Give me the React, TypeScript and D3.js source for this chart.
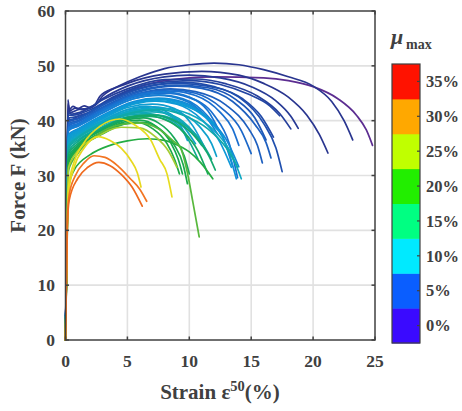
import React from "react";
import * as d3 from "d3";

// ---------- data ----------
const xTicks = [0, 5, 10, 15, 20, 25];
const yTicks = [0, 10, 20, 30, 40, 50, 60];
const cbarLabels = ["0%", "5%", "10%", "15%", "20%", "25%", "30%", "35%"];
const cbarColors = ["#3a0aff", "#0a5eff", "#00eaff", "#00ff82", "#22ee00", "#c0ff00", "#ffa800", "#ff1200"];

// μmax (%) of every specimen curve, in drawing order
const curveMu = [
  0, 1.5, 1.5, 2, 2.5, 3, 3.5,
  4, 4.5, 5, 5, 5.5, 6, 6, 6.5, 7, 7,
  8, 8.5, 9, 9, 9.5, 10, 10, 10.5, 11, 11.5,
  12, 12.5, 13, 13.5, 14, 15,
  16.5, 17, 17.5, 18, 18.5, 19, 20,
  22, 24, 27, 28, 32, 33,
];

// strain (%), force (kN) key points of every curve
const curvePoints: [number, number][][] = [
  // navy / purple
  [[0,0],[0.1,20],[0.2,40.5],[0.4,40],[1,40.8],[2,41.5],[3,43],[5,45.3],[8,47.3],[12,48],[16,47.8],[18,47.3],[20,46.2],[22,44],[23.5,41],[24.3,38.3],[24.8,35.5]],
  [[0,0],[0.1,22],[0.2,43.8],[0.3,42],[0.6,42.6],[1,42.2],[1.5,42.7],[2,42.4],[2.4,43],[2.8,44.5],[4,46],[6,48],[8,49.5],[10,50.2],[12,50.5],[14,50.2],[16,49.3],[18,48],[20,46.3],[21.5,43.5],[22.5,40],[23.2,36.5]],
  [[0,0],[0.1,22],[0.2,43],[0.35,41.8],[0.8,42.3],[1.4,42],[2,42.5],[2.5,43],[3,44.5],[5,46.8],[8,48.5],[11,49],[14,48.3],[16,46.8],[18,44.3],[19.5,41],[20.5,37.5],[21.2,34.1]],
  [[0,0],[0.1,21],[0.2,42],[0.4,41.5],[1,42],[2,42.3],[3,44],[5,46.3],[8,48],[10,48.3],[12.5,47.8],[15,46.2],[17,43.6],[18.2,40.8],[18.8,38.6]],
  [[0,0],[0.1,21],[0.2,41.5],[0.5,41.2],[1.5,41.8],[3,43.8],[5,45.8],[8,47.5],[10.5,47.6],[13,46.7],[15.5,44.5],[17.3,41.3],[18.2,38.5]],
  [[0,0],[0.1,21],[0.2,41],[0.6,41],[2,42],[4,44.5],[7,46.8],[10,47.3],[12.5,46.6],[14.8,44.8],[16.5,42.7],[17.3,40.9]],
  [[0,0],[0.1,20],[0.2,40.5],[0.6,40.6],[2,41.6],[4,44.2],[7,46.5],[9.5,47],[12,46.2],[14.3,44],[15.8,40.8],[16.8,37]],
  // blue
  [[0,0],[0.1,20],[0.25,40],[1,40.5],[3,43],[6,45.8],[9,46.8],[11.5,46.3],[14,44.3],[16,39.5],[17,35],[17.5,30.7]],
  [[0,0],[0.1,20],[0.25,39.8],[1,40.3],[3,42.8],[6,45.5],[9,46.5],[11.5,46],[13.8,43.8],[15.3,40.5],[16.2,36.5]],
  [[0,0],[0.1,20],[0.25,39.5],[1,40],[3,42.5],[6,45.3],[9,46.3],[11,45.9],[13.5,43.5],[15.3,39.3],[16.2,36],[16.6,33.2]],
  [[0,0],[0.1,19],[0.25,39],[1,39.8],[3,42.3],[6,45],[8.5,45.8],[10.5,45.3],[13,42.8],[14.8,38.5],[15.5,35.5],[15.9,32.3]],
  [[0,0],[0.1,19],[0.25,39.2],[1,39.8],[3,42.2],[6,45],[8.5,45.6],[10.5,45],[12.6,42.3],[14.2,38.2],[15,34]],
  [[0,0],[0.1,19],[0.25,38.8],[1,39.5],[3,42],[6,44.8],[8.5,45.4],[10.5,44.6],[12.5,41.5],[13.5,38.5],[14,35.5]],
  [[0,0],[0.1,19],[0.25,38.5],[1,39.2],[3,41.8],[5.5,44.3],[8,45],[10,44.2],[12,41],[13.2,36],[13.9,29.6]],
  [[0,0],[0.1,19],[0.25,38.6],[1,39.3],[3,41.8],[6,44.7],[8,45.2],[10,44.3],[11.5,41.8],[12.6,37.3]],
  [[0,0],[0.1,19],[0.25,38.3],[1,39],[3,41.5],[5.5,44],[7.5,44.7],[9.5,44],[11.5,40.8],[12.8,36.5],[13.5,31.7]],
  [[0,0],[0.1,19],[0.25,38.2],[1,39],[3,41.4],[5.5,44],[7.5,44.6],[9.5,43.8],[11.3,40.8],[12.3,37.5]],
  // cyan
  [[0,0],[0.1,18],[0.25,37.5],[1,38.5],[3,41],[5.5,43.5],[7.5,44.1],[9.5,43.4],[11.5,40.5],[13,36.5],[14,31.6]],
  [[0,0],[0.1,18],[0.25,37.3],[1,38.4],[3,40.9],[5.5,43.3],[7.5,44],[9.5,43.2],[11.5,40.3],[13,35.5],[13.8,29.4]],
  [[0,0],[0.1,18],[0.25,37],[1,38.2],[3,40.6],[5,42.8],[7,43.6],[9,43],[11,40.2],[12.5,36],[13.4,31.5]],
  [[0,0],[0.1,18],[0.25,37.2],[1,38.3],[3,40.8],[5.5,43.2],[7.5,43.9],[9.5,43],[11.3,40.6],[12.8,37]],
  [[0,0],[0.1,18],[0.25,37],[1,38],[3,40.5],[5.5,43],[7.5,43.6],[9.5,42.8],[11.2,41],[12,39.5]],
  [[0,0],[0.1,18],[0.25,36.8],[1,38],[3,40.3],[5,42.4],[7,43],[8.8,42.2],[10.3,39],[11.3,34.8]],
  [[0,0],[0.1,18],[0.25,36.5],[1,37.8],[3,40],[5,42],[6.5,42.6],[8,41.8],[9.2,39.5],[9.85,36.4]],
  [[0,0],[0.1,17],[0.25,36.3],[1,37.6],[3,40],[5,42],[7,42.5],[9,41.6],[10.8,39],[11.8,35.8],[12.2,33.5]],
  [[0,0],[0.1,17],[0.25,36],[1,37.4],[3,39.8],[5,41.7],[6.5,42.2],[8,41.4],[9.5,39],[10.5,35.8]],
  [[0,0],[0.1,17],[0.25,35.8],[1,37.2],[3,39.5],[5,41.4],[6.8,41.9],[8.5,41],[10,38.5],[11,35.5]],
  // teal
  [[0,0],[0.1,17],[0.25,35.6],[1,37.1],[3,39.6],[5.5,41.8],[8,42.2],[10,41.2],[12,38.2],[13.4,34],[14.2,29.4]],
  [[0,0],[0.1,17],[0.25,35.5],[1,37],[3,39.4],[5,41.2],[7,41.6],[8.8,40.8],[10.3,38],[11.3,34.8]],
  [[0,0],[0.1,17],[0.25,35.2],[1,36.8],[3,39.2],[5,41],[6.5,41.3],[8,40.6],[9.3,38.8],[9.9,37]],
  [[0,0],[0.1,17],[0.25,35.3],[1,36.9],[3,39.5],[5.5,41.5],[7.5,42],[9.5,41],[11.5,38.5],[13,35],[13.9,31.5]],
  [[0,0],[0.1,16],[0.25,35],[1,36.5],[3,38.9],[5,40.7],[7,41.1],[9,40],[10.7,37],[11.8,33]],
  [[0,0],[0.1,16],[0.25,34.5],[1,36.2],[3,38.7],[5,40.4],[6.8,40.8],[8.5,39.8],[9.8,37],[10.7,33]],
  // green
  [[0,0],[0.1,16],[0.25,34],[1,35.8],[3,38.6],[5,40.6],[7,41],[8.8,40],[10.5,37],[11.6,33.5],[12.1,31]],
  [[0,0],[0.1,16],[0.25,33.5],[1,35.5],[3,38.5],[5,40.5],[6.5,40.9],[8,40.2],[9.5,38],[10.7,34.5],[11.5,30.3]],
  [[0,0],[0.1,16],[0.25,33],[1,35.3],[3,38.3],[5,40.2],[6.3,40.5],[7.5,39.6],[8.8,36.8],[9.6,33.5],[10,30.3]],
  [[0,0],[0.1,16],[0.25,32.8],[1,35],[3,38],[4.8,39.8],[6,40.1],[7.3,39],[8.5,36],[9.1,33],[9.45,30.3]],
  [[0,0],[0.1,15],[0.25,32.3],[1,34.6],[3,37.6],[5,39.5],[6.3,39.7],[7.6,38.5],[8.8,35.5],[9.5,32],[9.85,28.5]],
  [[0,0],[0.1,15],[0.25,32.5],[1,34.8],[3,37.8],[4.5,39.4],[5.8,39.7],[7,38.6],[8.2,35.8],[8.8,33],[9.2,30.3]],
  [[0,0],[0.1,14],[0.25,28],[0.7,31],[2,33.8],[3.6,35.5],[5,36.3],[6.6,36.7],[8,36.4],[8.8,35.8],[10,34.3],[10.9,32.4],[11.9,29.4]],
  // lime / yellow / orange
  [[0,0],[0.1,15],[0.25,31],[1,34],[2.5,37.3],[4.5,39.3],[6,39.6],[7.5,38.5],[8.7,36.3],[9.3,35],[9.8,31],[10.3,25],[10.8,18.8]],
  [[0,0],[0.1,16],[0.25,31.5],[1,34.5],[2.5,37],[4.5,38.8],[6,38.7],[7.3,37],[8.3,34.5],[9,31.5]],
  [[0,0],[0.1,16],[0.25,28],[0.7,32.5],[1.5,36],[2.8,39],[4.4,40.3],[5.6,39.2],[6.9,36.4],[7.6,33],[8.2,30.3],[8.6,26.1]],
  [[0,0],[0.1,16],[0.25,27],[0.7,31.5],[1.5,35],[2.6,37.1],[3.6,36.4],[4.5,35],[5.3,32.7],[5.8,30.5],[6.1,27.9]],
  [[0,0],[0.08,12],[0.15,22],[0.3,26.5],[0.8,30],[1.5,32.3],[2.3,33.6],[3.2,33.3],[4.2,31.8],[5.2,29.5],[6,27.5],[6.56,25.3]],
  [[0,0],[0.08,11],[0.15,21],[0.3,25.5],[1,29.5],[1.8,31.5],[2.7,32.4],[3.6,31.8],[4.5,30.2],[5.4,27.8],[6.2,24.4]],
];

// ---------- layout ----------
const W = 462, H = 411;
const plot = { left: 65.5, right: 375, top: 11, bottom: 340 };
const cbar = { x: 392, w: 28, top: 64, bottom: 343 };
const ink = "#404040";
const font = "'Liberation Serif', 'Times New Roman', serif";

export default function App() {
  const x = d3.scaleLinear().domain([0, 25]).range([plot.left, plot.right]);
  const y = d3.scaleLinear().domain([0, 60]).range([plot.bottom, plot.top]);
  const line = d3.line<[number, number]>().x(d => x(d[0])).y(d => y(d[1])).curve(d3.curveMonotoneX);

  const color = d3.scaleLinear<string>()
    .domain([0, 1.5, 4, 6, 9, 12, 15, 18, 21, 23, 26, 28, 32, 33])
    .range(["#5c2d91", "#29358f", "#1f4fae", "#1a6fd0", "#0e98d8", "#10a8c2", "#10a890", "#17a84e", "#2aae3c", "#86c23e", "#e4e01c", "#e8d820", "#f27522", "#ef6a1e"]);

  const cb = d3.scaleBand<string>().domain([...cbarLabels].reverse()).range([cbar.top, cbar.bottom]);

  return (
    <svg width={W} height={H} style={{ position: "absolute", left: 0, top: 0, background: "#fff" }} fontFamily={font}>
      {/* grid */}
      {xTicks.slice(1, -1).map(t => (
        <line key={"gx" + t} x1={x(t)} x2={x(t)} y1={plot.top} y2={plot.bottom} stroke="#e1e1e1" strokeWidth={1.6} />
      ))}
      {yTicks.slice(1, -1).map(t => (
        <line key={"gy" + t} x1={plot.left} x2={plot.right} y1={y(t)} y2={y(t)} stroke="#e1e1e1" strokeWidth={1.6} />
      ))}
      {/* curves */}
      <g fill="none" strokeWidth={1.7} strokeLinejoin="round" strokeLinecap="round">
        {curvePoints.map((pts, i) => (
          <path key={i} d={line(pts) || ""} stroke={color(curveMu[i])} />
        ))}
      </g>
      {/* axes box */}
      <rect x={plot.left} y={plot.top} width={plot.right - plot.left} height={plot.bottom - plot.top} fill="none" stroke={ink} strokeWidth={1.5} />
      {xTicks.map(t => (
        <g key={"tx" + t}>
          <line x1={x(t)} x2={x(t)} y1={plot.bottom} y2={plot.bottom - 3.5} stroke={ink} strokeWidth={1.5} />
          <line x1={x(t)} x2={x(t)} y1={plot.top} y2={plot.top + 3.5} stroke={ink} strokeWidth={1.5} />
          <text x={x(t)} y={367} textAnchor="middle" fontSize={17.5} fontWeight="bold" fill={ink}>{t}</text>
        </g>
      ))}
      {yTicks.map(t => (
        <g key={"ty" + t}>
          <line x1={plot.left} x2={plot.left + 3.5} y1={y(t)} y2={y(t)} stroke={ink} strokeWidth={1.5} />
          <line x1={plot.right} x2={plot.right - 3.5} y1={y(t)} y2={y(t)} stroke={ink} strokeWidth={1.5} />
          <text x={55} y={y(t) + 6} textAnchor="end" fontSize={17.5} fontWeight="bold" fill={ink}>{t}</text>
        </g>
      ))}
      {/* axis labels */}
      <text x={220} y={399} textAnchor="middle" fontSize={21} fontWeight="bold" fill={ink}>
        Strain ε<tspan dy={-8} fontSize={14.5}>50</tspan><tspan dy={8}>(%)</tspan>
      </text>
      <text transform={`translate(25,${(plot.top + plot.bottom) / 2}) rotate(-90)`} textAnchor="middle" fontSize={21} fontWeight="bold" fill={ink}>
        Force F (kN)
      </text>
      {/* colorbar */}
      {cbarLabels.map((lab, i) => (
        <rect key={"cb" + lab} x={cbar.x} y={cb(lab)!} width={cbar.w} height={cb.bandwidth() + 0.5} fill={cbarColors[i]} />
      ))}
      <rect x={cbar.x} y={cbar.top} width={cbar.w} height={cbar.bottom - cbar.top} fill="none" stroke={ink} strokeWidth={1.2} />
      {cbarLabels.map(lab => {
        const cy = cb(lab)! + cb.bandwidth() / 2;
        return (
          <g key={"cl" + lab}>
            <line x1={cbar.x + cbar.w} x2={cbar.x + cbar.w - 3} y1={cy} y2={cy} stroke={ink} strokeWidth={1.2} />
            <text x={426} y={cy + 5.8} fontSize={16.5} fontWeight="bold" fill={ink}>{lab}</text>
          </g>
        );
      })}
      <text x={391} y={44} fontSize={22} fontWeight="bold" fontStyle="italic" fill={ink}>μ</text>
      <text x={406} y={49} fontSize={14} fontWeight="bold" fill={ink}>max</text>
    </svg>
  );
}
